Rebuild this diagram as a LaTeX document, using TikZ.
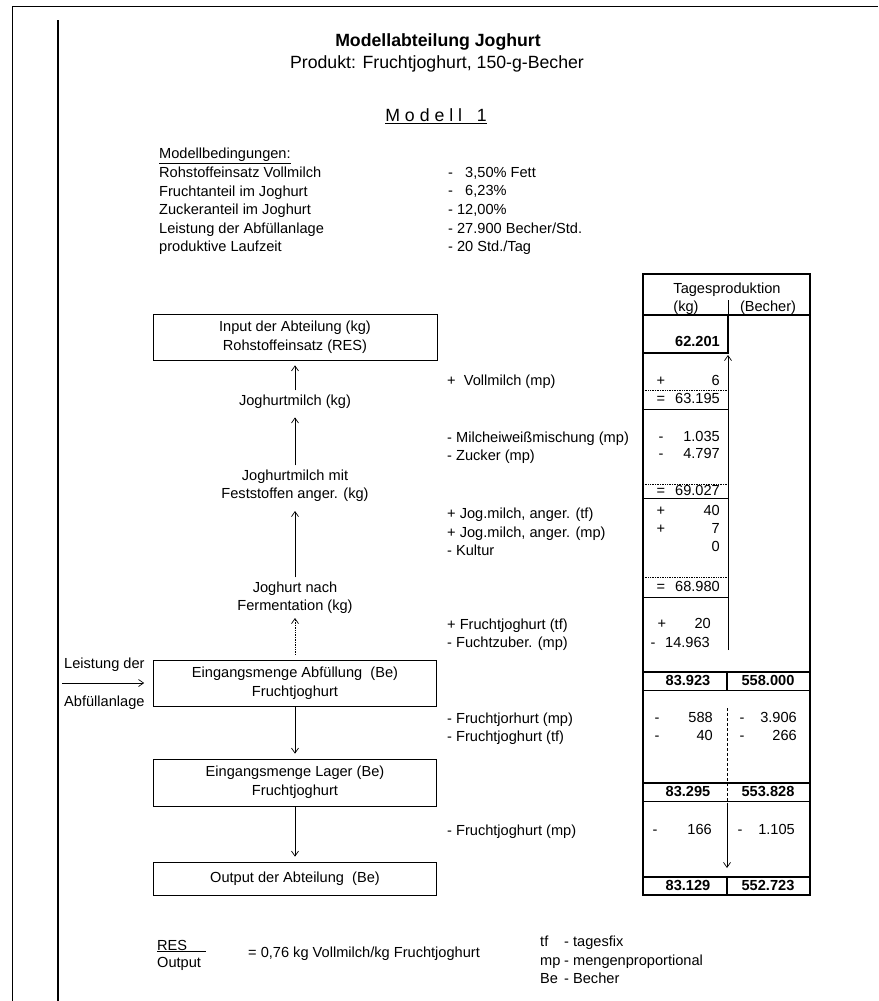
\documentclass[tikz,border=0pt]{standalone}
\usepackage{fontspec}
\setmainfont{Liberation Sans}
\usetikzlibrary{arrows.meta}
\newcommand{\bodyfont}{\fontsize{14.6}{18.6}\selectfont}
\newcommand{\headfont}{\fontsize{17.7}{21}\selectfont}

\begin{document}
\begin{tikzpicture}[x=1pt,y=-1pt,% one unit per pixel of the scan, y runs downwards
    every node/.style={
        inner sep=0pt,
        font=\bodyfont
    },
    line/.style={line width=0.7pt},
    box/.style={rectangle,draw,line,minimum width=283pt,minimum height=46pt,align=center},
    flowtext/.style={align=center,inner sep=4pt},
    lbl/.style={anchor=west,align=left},
    cell/.style={text height=10.5pt,text depth=3pt},% same box for signs and numbers
    sum/.style={cell,font=\bodyfont\bfseries},
    tab/.style={line width=1.6pt},
    tip/.style={-{Straight Barb[length=5pt,width=7pt]}},
    every edge/.style={draw,line,tip,shorten >=5pt}
  ]
  \useasboundingbox (0,0) rectangle (878,1001);

  % page frame
  \draw[line] (12,1001) -- (12,6) -- (878,6);
  \draw[line width=1.8pt] (58,20) -- (58,1001);

  % title
  \node[font=\headfont\bfseries] (title) at (438,42) {Modellabteilung Joghurt};
  \node[font=\headfont] (prod) at (437,64) {Produkt: Fruchtjoghurt, 150-g-Becher};
  \node[font=\headfont] (modell) at (436,116) {\underline{M o d e l l \ \ 1}};

  % Modellbedingungen
  \node[lbl] (bed) at (159,156) {\underline{Modellbedingungen:}};
  \node[lbl] (bedl) at (159,211) {Rohstoffeinsatz Vollmilch\\Fruchtanteil im Joghurt\\Zuckeranteil im Joghurt\\Leistung der Abfüllanlage\\produktive Laufzeit};
  \node[lbl] (bedv) at (448,211) {- \phantom{1}3,50\% Fett\\- \phantom{1}6,23\%\\- 12,00\%\\- 27.900 Becher/Std.\\- 20 Std./Tag};

  % flow of the department
  \node[box,minimum width=284pt] (input) at (295,337) {Input der Abteilung (kg)\\Rohstoffeinsatz (RES)};
  \node[flowtext] (milch) at (295,401.4) {Joghurtmilch (kg)};
  \node[flowtext] (fest) at (295,485.7) {Joghurtmilch mit\\Feststoffen anger. (kg)};
  \node[flowtext] (ferm) at (295,597.7) {Joghurt nach\\Fermentation (kg)};
  \node[box] (abf) at (295,683) {Eingangsmenge Abfüllung\ \ (Be)\\Fruchtjoghurt};
  \node[box,minimum height=47pt] (lager) at (295,782.5) {Eingangsmenge Lager (Be)\\Fruchtjoghurt};
  \node[box,minimum height=33pt] (out) at (295,878.5) {Output der Abteilung\ \ (Be)};

  \node[lbl] (lst) at (64,664.4) {Leistung der};
  \node[lbl] (anl) at (64,702.4) {Abfüllanlage};
  \coordinate (lin) at (62,683);

  \path
    (milch) edge (input)
    (fest) edge (milch)
    (ferm) edge (fest)
    (abf) edge[densely dotted,shorten <=5pt,shorten >=0pt] (ferm)
    (abf) edge (lager)
    (lager) edge (out)
    (lin) edge[shorten >=9pt] (abf)
    ;

  % inputs and losses
  \node[lbl] (vm) at (447,381.4) {+\ \ Vollmilch (mp)};
  \node[lbl] (mw) at (447,447.7) {- Milcheiweißmischung (mp)\\- Zucker (mp)};
  \node[lbl] (jm) at (447,532) {+ Jog.milch, anger. (tf)\\+ Jog.milch, anger. (mp)\\- Kultur};
  \node[lbl] (fz) at (447,634.7) {+ Fruchtjoghurt (tf)\\- Fuchtzuber. (mp)};
  \node[lbl] (fj) at (447,728.7) {- Fruchtjorhurt (mp)\\- Fruchtjoghurt (tf)};
  \node[lbl] (fm) at (447,831.4) {- Fruchtjoghurt (mp)};

  % table Tagesproduktion
  \draw[tab] (643,274) rectangle (810,895);
  \node (tp) at (727,289.5) {Tagesproduktion};
  \node (hkg) at (686,308) {(kg)};
  \node (hbe) at (768,308) {(Becher)};
  \draw[tab] (643,315) -- (810,315);
  \draw[line] (728,300) -- (728,315);
  \draw[tab] (728,315) -- (728,353) -- (643,353);
  \node[sum,anchor=east] (res) at (720,343) {62.201};
  \foreach \ya/\yb in {390/409,484/498,577/597}{
    \draw[line,densely dotted] (643,\ya) -- (728,\ya);
    \draw[line] (643,\yb) -- (728,\yb);
  }
  \foreach \y/\s/\n [count=\i] in {382/+/6,400/=/63.195,438/-/1.035,455/-/4.797,492/=/69.027,512/+/40,530/+/7,548//0,588/=/68.980}{
    \node[cell] (s\i) at (661,\y) {\s};
    \node[cell,anchor=east] (n\i) at (720,\y) {\n};
  }
  \node[cell] (s20) at (662,625) {+};
  \node[cell,anchor=east] (n20) at (711,625) {20};
  \node[cell] (s21) at (653,644) {-};
  \node[cell,anchor=east] (n21) at (710,644) {14.963};
  \coordinate (up0) at (728,650);
  \coordinate (up1) at (728,355);
  \draw[line,tip] (up0) -- (up1);

  % totals
  \foreach \ya/\kg/\bc [count=\i] in {672/83.923/558.000,783/83.295/553.828,877/83.129/552.723}{
    \draw[tab] (643,\ya) -- (810,\ya) (643,\ya+18.5) -- (810,\ya+18.5);
    \node[sum] (tk\i) at (688,\ya+9.5) {\kg};
    \node[sum] (tb\i) at (768,\ya+9.5) {\bc};
  }
  \draw[tab] (727,672) -- (727,690.5) (727,877) -- (727,895);
  \draw[line,densely dashed] (727,708) -- (727,802);
  \foreach \y/\xa/\xk/\k/\xb/\xbb/\b [count=\i] in {719/657/713/588/742/797/3.906,737/657/713/40/742/797/266,831/655/712/166/740/795/1.105}{
    \node[cell] (ma\i) at (\xa,\y) {-};
    \node[cell,anchor=east] (mk\i) at (\xk,\y) {\k};
    \node[cell] (mb\i) at (\xb,\y) {-};
    \node[cell,anchor=east] (mn\i) at (\xbb,\y) {\b};
  }
  \coordinate (dn0) at (727,802.5);
  \coordinate (dn1) at (727,868);
  \draw[line,tip] (dn0) -- (dn1);

  % legend
  \node[lbl] (lres) at (157,946) {\underline{RES\hspace*{19pt}}};
  \node[lbl] (lout) at (157,964) {Output};
  \node[lbl] (lval) at (248,954) {= 0,76 kg Vollmilch/kg Fruchtjoghurt};
  \node[lbl] (abk) at (540,960) {tf\\mp\\Be};
  \node[lbl] (erk) at (564,960) {- tagesfix\\- mengenproportional\\- Becher};
\end{tikzpicture}
\end{document}
